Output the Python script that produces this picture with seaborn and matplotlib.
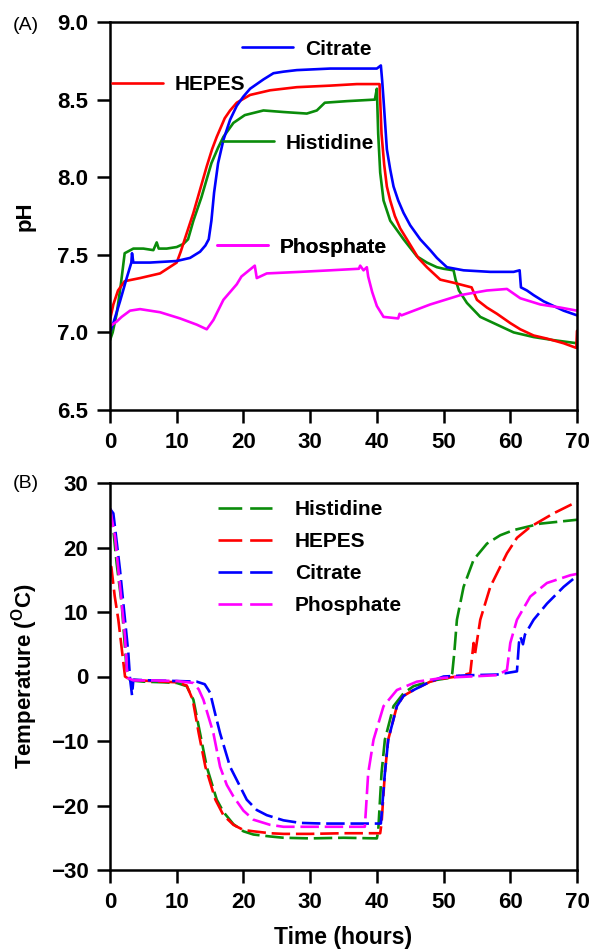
import matplotlib
matplotlib.use("Agg")
import matplotlib.pyplot as plt
from matplotlib.lines import Line2D
import pandas as pd
import seaborn as sns

# ---- panel A: pH during freeze / thaw ----
citrate_t = [0, 0.5, 1.5, 2.5, 3.2, 3.3, 3.5, 6, 10, 12, 13.5, 14.3, 14.8, 15.2, 15.6, 16.2, 17, 18,
             19, 20, 21, 22, 23, 24.5, 26, 28, 33, 36, 40, 40.6, 40.8, 41.0, 41.5, 42, 42.5, 43.2, 44,
             45, 46.5, 48, 49, 50.5, 53, 57, 60.5, 61.4, 61.6, 62.5, 63.5, 65, 66.5, 68, 70]
citrate_ph = [7.0, 7.06, 7.2, 7.35, 7.45, 7.51, 7.45, 7.45, 7.46, 7.48, 7.52, 7.56, 7.6, 7.72, 7.9,
              8.09, 8.24, 8.37, 8.46, 8.52, 8.57, 8.60, 8.63, 8.67, 8.68, 8.69, 8.70, 8.70, 8.70, 8.72,
              8.62, 8.50, 8.18, 8.05, 7.94, 7.85, 7.77, 7.69, 7.60, 7.53, 7.48, 7.42, 7.40, 7.39, 7.39,
              7.40, 7.29, 7.27, 7.24, 7.20, 7.17, 7.14, 7.11]

hepes_t = [0, 0.5, 1.2, 2.2, 4.5, 7.5, 10, 10.6, 11.2, 12.5, 13.5, 14.5, 15.3, 16, 17.2, 18, 19, 21,
           24, 28, 33, 37, 40.4, 40.7, 41.1, 41.5, 42.0, 42.7, 43.5, 44.5, 46.2, 47.5, 48.5, 49.5,
           51.5, 54.2, 55, 56.5, 58, 60, 61.5, 63.5, 65.5, 68, 69.9, 70]
hepes_ph = [7.08, 7.18, 7.27, 7.33, 7.35, 7.38, 7.45, 7.52, 7.60, 7.77, 7.92, 8.07, 8.18, 8.26, 8.38,
            8.43, 8.48, 8.53, 8.56, 8.58, 8.59, 8.60, 8.60, 8.28, 8.08, 7.94, 7.85, 7.75, 7.67, 7.60,
            7.48, 7.42, 7.38, 7.34, 7.32, 7.29, 7.21, 7.16, 7.12, 7.06, 7.02, 6.98, 6.96, 6.93, 6.90, 7.01]

histidine_t = [0, 0.4, 1.0, 1.6, 2.2, 3.5, 5, 6.5, 7.0, 7.3, 8.5, 10, 11, 11.7, 12.5, 13.7, 15.2, 16.2,
               17, 18.5, 20.2, 23, 26, 29.5, 31, 32.2, 35.5, 39.7, 40.0, 40.2, 40.5, 41, 42, 43, 44, 46,
               47.5, 49, 50, 51.5, 51.8, 52.3, 53.5, 55.5, 58, 60.5, 63.5, 66.5, 70]
histidine_ph = [6.95, 7.0, 7.12, 7.3, 7.51, 7.54, 7.54, 7.53, 7.58, 7.54, 7.54, 7.55, 7.57, 7.60, 7.72,
                7.87, 8.09, 8.19, 8.26, 8.35, 8.40, 8.43, 8.42, 8.41, 8.43, 8.48, 8.49, 8.50, 8.57, 8.28,
                8.03, 7.85, 7.72, 7.66, 7.60, 7.49, 7.45, 7.42, 7.41, 7.40, 7.34, 7.27, 7.19, 7.10, 7.05,
                7.00, 6.97, 6.95, 6.93]

phosphate_t = [0, 1, 1.75, 3, 4.5, 7.5, 10.5, 13, 14.5, 15.5, 17, 19, 19.7, 21.7, 22.0, 23.5, 28.5, 33,
               37.3, 37.5, 38.0, 38.5, 38.7, 39.3, 40, 41, 43.2, 43.4, 43.7, 48, 52.5, 56.5, 59.5, 61.5,
               64.5, 67.5, 70]
phosphate_ph = [7.04, 7.07, 7.10, 7.14, 7.15, 7.13, 7.09, 7.05, 7.02, 7.08, 7.21, 7.31, 7.36, 7.43, 7.35,
                7.38, 7.39, 7.40, 7.41, 7.43, 7.40, 7.42, 7.36, 7.26, 7.17, 7.10, 7.09, 7.12, 7.11, 7.18,
                7.24, 7.27, 7.28, 7.22, 7.18, 7.16, 7.14]

# ---- panel B: temperature ----
histidine_tt = [0, 0.5, 1.0, 1.75, 2.5, 3.0, 5, 8, 10, 11.5, 12.5, 13.5, 14.5, 16, 17, 18.5, 20, 21.5,
                24, 26, 30, 35, 40.0, 40.2, 40.7, 41.2, 42.5, 44, 45.5, 48.5, 51, 51.3, 51.6, 52, 53,
                54.5, 56.5, 58.5, 60.5, 64.5, 70]
histidine_temp = [26, 22.7, 17.5, 11.3, 1, -0.6, -0.8, -0.9, -1.0, -1.5, -3.6, -8.8, -14.0, -19.1, -21.0,
                  -22.9, -24.0, -24.5, -24.8, -25.0, -25.1, -25.0, -25.1, -24.0, -15, -9.8, -4.6, -2.6,
                  -1.5, -0.6, -0.2, 0.5, 3.6, 8.8, 13.9, 18.1, 20.6, 21.9, 22.7, 23.7, 24.3]

hepes_tt = [0, 0.2, 0.7, 1.25, 2.25, 3.0, 6, 10, 11.5, 12.4, 13.3, 14.3, 15.8, 17, 18.5, 20, 21.5, 24,
            26, 30, 35, 40.5, 40.7, 41.2, 41.7, 43, 44, 45.5, 48, 50, 52, 54, 54.5, 54.7, 55.5, 57,
            59.5, 61, 63, 66.5, 70]
hepes_temp = [17, 17, 12.5, 8.8, 0, -0.5, -0.7, -0.9, -1.4, -3.6, -8.8, -14.0, -19.1, -21.5, -23.0,
              -23.8, -24.0, -24.3, -24.4, -24.4, -24.3, -24.3, -22.8, -15, -9.8, -4.6, -3.0, -2.1, -0.8,
              -0.3, 0, 0.5, 5.2, 3.4, 8.8, 13.9, 19.1, 21.5, 23.2, 25.3, 27.1]

citrate_tt = [0, 0.5, 1.5, 2.75, 3.0, 3.3, 3.5, 6, 10, 13, 14.2, 15.0, 15.7, 16.5, 18, 20.5, 22, 23.5,
              26, 28.5, 32, 36, 40.6, 41.2, 41.7, 43, 44, 45.5, 48, 50, 54, 58, 61.0, 61.3, 61.5, 61.9,
              62.2, 63.5, 65.5, 68, 70]
citrate_temp = [26, 25.3, 16.5, 3.6, -0.3, -2.9, -0.5, -0.6, -0.7, -0.8, -1.2, -2.5, -5.5, -8.8, -14.0,
                -19.1, -20.7, -21.5, -22.3, -22.7, -22.8, -22.8, -22.8, -15, -9.8, -4.6, -3.0, -2.1,
                -0.8, 0, 0.2, 0.3, 0.8, 5.2, 6.2, 5.0, 6.5, 8.8, 11.3, 13.9, 15.6]

phosphate_tt = [0, 0.75, 1.5, 2.25, 2.6, 3.5, 6, 10, 12.5, 13.3, 14, 15.5, 16.5, 17.5, 18.5, 20, 21.5,
                24, 26, 30, 34, 38.2, 38.4, 38.7, 39.5, 41, 43, 46, 50, 54, 58, 59.5, 60, 61, 63, 65.5,
                69, 70]
phosphate_temp = [26, 21.7, 14, 6.2, -0.2, -0.6, -0.6, -0.7, -1.0, -2.0, -3.6, -8.8, -14.0, -16.8, -18.6,
                  -20.8, -22.2, -23.0, -23.3, -23.3, -23.3, -23.3, -20, -15, -9.8, -4.6, -2.1, -0.8, -0.2,
                  0, 0.2, 1.0, 5.2, 8.8, 12.4, 14.5, 15.7, 15.9]

buffers = ["Histidine", "HEPES", "Citrate", "Phosphate"]
colors = {"Histidine": "#0a8c0a", "HEPES": "#ff0000", "Citrate": "#0000ff", "Phosphate": "#ff00ff"}

ph_df = pd.concat([
    pd.DataFrame({"time": t, "pH": v, "buffer": name})
    for name, t, v in [("Histidine", histidine_t, histidine_ph), ("HEPES", hepes_t, hepes_ph),
                       ("Citrate", citrate_t, citrate_ph), ("Phosphate", phosphate_t, phosphate_ph)]
], ignore_index=True)

temp_df = pd.concat([
    pd.DataFrame({"time": t, "temp": v, "buffer": name})
    for name, t, v in [("Histidine", histidine_tt, histidine_temp), ("HEPES", hepes_tt, hepes_temp),
                       ("Citrate", citrate_tt, citrate_temp), ("Phosphate", phosphate_tt, phosphate_temp)]
], ignore_index=True)

sns.set_theme(style="ticks")
plt.rcParams["font.family"] = ["Liberation Sans", "DejaVu Sans"]
plt.rcParams["mathtext.fontset"] = "custom"
plt.rcParams["mathtext.rm"] = "Liberation Sans"
plt.rcParams["mathtext.bf"] = "Liberation Sans:bold"
for key in ("text.color", "axes.labelcolor", "xtick.color", "ytick.color", "axes.edgecolor"):
    plt.rcParams[key] = "black"

fig = plt.figure(figsize=(5.9, 9.49), dpi=100)
W, H = 590, 949
ax1 = fig.add_axes([110 / W, 1 - 410 / H, 467 / W, 388 / H])
ax2 = fig.add_axes([110 / W, 1 - 870 / H, 467 / W, 387 / H])

LW = 1.9
sns.lineplot(data=ph_df, x="time", y="pH", hue="buffer", hue_order=buffers, palette=colors,
             estimator=None, sort=False, legend=False, linewidth=LW, ax=ax1)
sns.lineplot(data=temp_df, x="time", y="temp", hue="buffer", hue_order=buffers, palette=colors,
             estimator=None, sort=False, legend=False, linewidth=LW,
             linestyle=(0, (7, 2.2)), ax=ax2)

ax1.set_xlim(0, 70)
ax1.set_ylim(6.5, 9.0)
ax1.set_yticks([6.5, 7.0, 7.5, 8.0, 8.5, 9.0])
ax1.set_yticklabels(["6.5", "7.0", "7.5", "8.0", "8.5", "9.0"])
ax2.set_xlim(0, 70)
ax2.set_ylim(-30, 30)
ax2.set_yticks(range(-30, 31, 10))

for ax in (ax1, ax2):
    ax.set_xticks(range(0, 71, 10))
    ax.tick_params(direction="out", length=9.5, width=1.8, labelsize=16, pad=6,
                   color="black", labelcolor="black")
    for side in ("left", "right", "top", "bottom"):
        ax.spines[side].set_linewidth(1.8)
        ax.spines[side].set_color("black")
    for lbl in ax.get_xticklabels() + ax.get_yticklabels():
        lbl.set_fontweight("bold")
    ax.set_xlabel("")

ax1.set_ylabel("pH", fontsize=16, fontweight="bold")
ax1.yaxis.set_label_coords(-0.16, 0.5)
ax2.set_ylabel(r"Temperature ($\mathbf{^O}$C)", fontsize=16, fontweight="bold")
ax2.yaxis.set_label_coords(-0.15, 0.5)
ax2.set_xlabel("Time (hours)", fontsize=16.5, fontweight="bold")
ax2.xaxis.set_label_coords(0.5, -0.145)

# panel A: individual in-plot keys
key_pos = {"HEPES": (0.004, 0.838), "Citrate": (0.283, 0.930),
           "Histidine": (0.242, 0.688), "Phosphate": (0.229, 0.420)}
for name, (kx, ky) in key_pos.items():
    handle = Line2D([], [], color=colors[name], linewidth=LW)
    leg = ax1.legend([handle], [name], loc="center left", bbox_to_anchor=(kx, ky),
                     frameon=False, borderpad=0, borderaxespad=0, handlelength=2.45,
                     handletextpad=0.55, prop={"size": 15, "weight": "bold"})
    ax1.add_artist(leg)

# panel B: dashed legend
handles = [Line2D([], [], color=colors[n], linewidth=LW, linestyle=(0, (9, 3))) for n in buffers]
ax2.legend(handles, buffers, loc="upper left", bbox_to_anchor=(0.231, 0.955), frameon=False,
           borderpad=0, borderaxespad=0, handlelength=2.6, handletextpad=1.1,
           labelspacing=0.62, prop={"size": 15, "weight": "bold"})

fig.text(13 / W, 1 - 25 / H, "(A)", fontsize=14, va="center", ha="left")
fig.text(13 / W, 1 - 483 / H, "(B)", fontsize=14, va="center", ha="left")

fig.savefig("out.png", dpi=100)
